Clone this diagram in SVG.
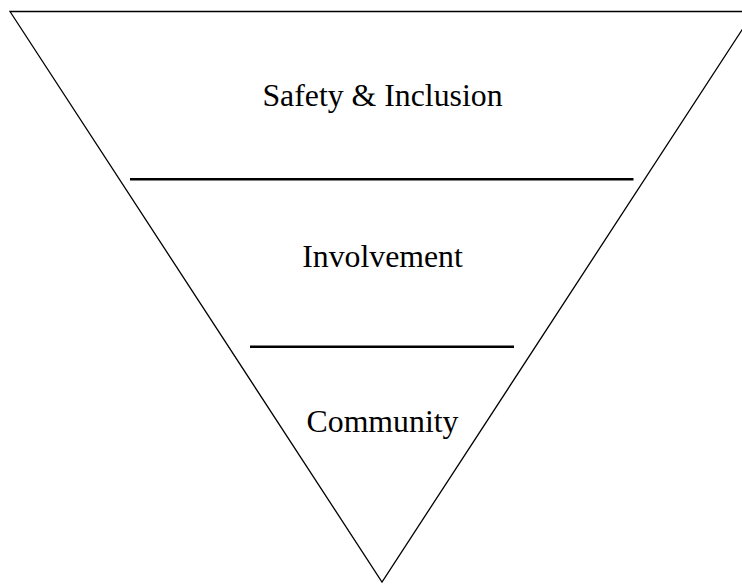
<svg xmlns="http://www.w3.org/2000/svg" width="742" height="584" viewBox="0 0 742 584">
<style>
.t{font-family:"Liberation Serif","Times New Roman",serif;font-size:31.8px;fill:#000;text-anchor:middle}
.div{stroke:#000;stroke-width:2.6}
</style>
<rect width="742" height="584" fill="#fff"/>
<g id="triangle">
<polygon points="10,11.5 754,11.5 382,582" fill="none" stroke="#000" stroke-width="1.3"/>
</g>
<g id="connectors">
<line class="div" x1="130" y1="179.3" x2="633.5" y2="179.3"/>
<line class="div" x1="250" y1="346.7" x2="514" y2="346.7"/>
</g>
<g id="safety"><text class="t" x="382.5" y="106">Safety &amp; Inclusion</text></g>
<g id="involvement"><text class="t" x="382.5" y="266.7">Involvement</text></g>
<g id="community"><text class="t" x="382.5" y="431.7">Community</text></g>
</svg>
